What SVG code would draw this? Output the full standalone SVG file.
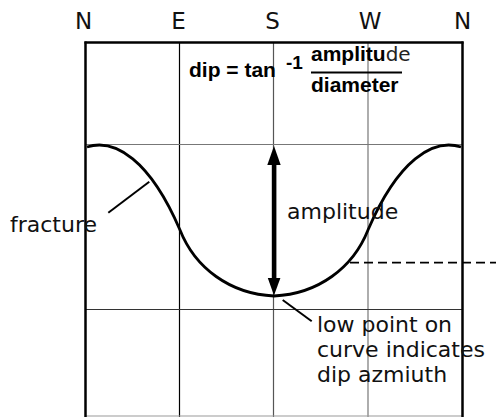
<svg xmlns="http://www.w3.org/2000/svg" width="496" height="417" viewBox="0 0 496 417">
<style>
.lbl{font-family:"DejaVu Sans","Liberation Sans",sans-serif;font-size:22px;fill:#111}
.dir{font-family:"DejaVu Sans","Liberation Sans",sans-serif;font-size:23px;fill:#111;text-anchor:middle}
.eq{font-family:"Liberation Sans",Arial,sans-serif;font-weight:bold;font-size:21px;fill:#000}
.frame{stroke:#000;stroke-width:2.5;fill:none}
.grid{stroke-width:1.2;fill:none}
.lead{stroke:#000;stroke-width:2;fill:none}
</style>
<rect width="496" height="417" fill="#fff"/>
<g id="grid">
<line class="grid" x1="179.5" y1="42" x2="179.5" y2="417" stroke="#000"/>
<line class="grid" x1="273.5" y1="42" x2="273.5" y2="417" stroke="#555"/>
<line class="grid" x1="368" y1="42" x2="368" y2="417" stroke="#777"/>
<line class="grid" x1="86" y1="144.5" x2="462" y2="144.5" stroke="#777"/>
<line class="grid" x1="86" y1="309.5" x2="462" y2="309.5" stroke="#333"/>
<line class="grid" x1="86" y1="416" x2="462" y2="416" stroke="#999"/>
</g>
<g id="frame">
<line class="frame" x1="84.5" y1="42.5" x2="463.5" y2="42.5"/>
<line class="frame" x1="85.5" y1="41.5" x2="85.5" y2="417"/>
<line class="frame" x1="462.5" y1="41.5" x2="462.5" y2="417"/>
</g>
<g id="directions">
<text class="dir" x="83.5" y="29">N</text>
<text class="dir" x="178.5" y="29">E</text>
<text class="dir" x="272.5" y="29">S</text>
<text class="dir" x="370" y="29">W</text>
<text class="dir" x="462.5" y="29">N</text>
</g>
<g id="equation">
<text class="eq" x="189" y="76.5">dip = tan</text>
<text class="eq" x="286" y="69" style="font-size:19px">-1</text>
<text x="311" y="61" class="eq">amplitu<tspan style="font-family:'DejaVu Sans',sans-serif;font-weight:normal;font-size:20px;fill:#222">de</tspan></text>
<line x1="311" y1="72.5" x2="402" y2="72.5" stroke="#000" stroke-width="2"/>
<text class="eq" x="311" y="91.5">diameter</text>
</g>
<g id="fracture-curve">
<path d="M87,147 C115,138 150,160 180,230 C195,268 230,294 274,296 C318,294 353,268 368,230 C398,160 433,138 461,147" fill="none" stroke="#000" stroke-width="2.8"/>
</g>
<g id="amplitude-arrow">
<rect x="271.8" y="163" width="4.6" height="118" fill="#000"/>
<polygon points="274,146 267.3,165 280.7,165" fill="#000"/>
<polygon points="274,295.5 267.8,278 280.4,278" fill="#000"/>
</g>
<g id="connectors">
<line class="lead" x1="108.3" y1="212.7" x2="149.3" y2="181.7"/>
<line class="lead" x1="282.7" y1="300" x2="311.7" y2="321.2"/>
<line x1="350" y1="262.7" x2="496" y2="262.7" stroke="#000" stroke-width="1.8" stroke-dasharray="9,5"/>
</g>
<g id="labels">
<text class="lbl" x="10" y="231.5">fracture</text>
<text class="lbl" x="287" y="219.3">amplitude</text>
<text class="lbl" x="317" y="332.3">low point on</text>
<text class="lbl" x="317" y="357.3">curve indicates</text>
<text class="lbl" x="317" y="381.7">dip azmiuth</text>
</g>
</svg>
